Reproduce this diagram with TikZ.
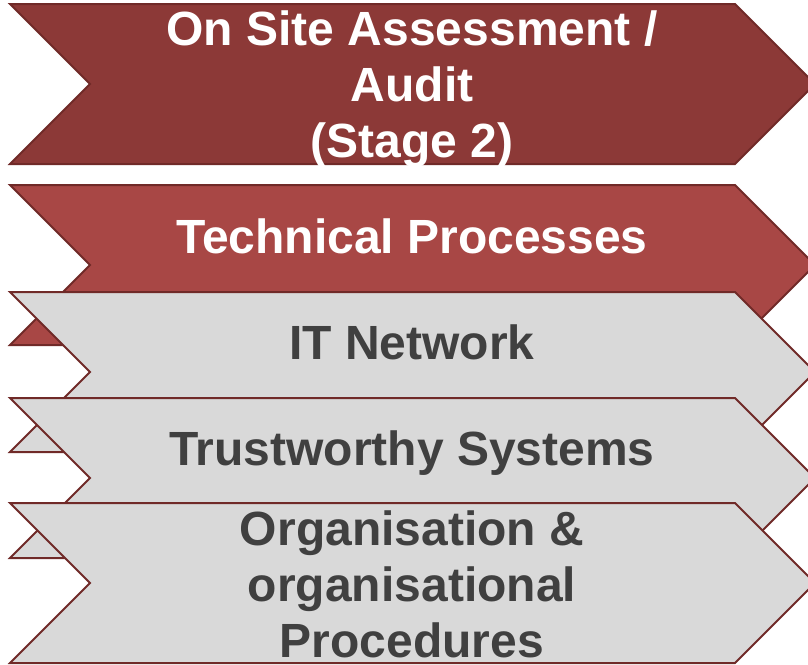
\documentclass[tikz,border=0pt]{standalone}
\usepackage{fontspec}
\setmainfont{Liberation Sans}
\definecolor{stagered}{RGB}{140,57,55}
\definecolor{techred}{RGB}{168,71,69}
\definecolor{boxgrey}{RGB}{217,217,217}
\definecolor{edgered}{RGB}{112,42,40}
\definecolor{textgrey}{RGB}{64,64,64}
\tikzset{
  chevron/.style={draw=edgered, line width=2pt, line join=miter},
  headtext/.style={text=white, font=\bfseries\fontsize{48}{56}\selectfont,
    align=center, inner sep=0pt, anchor=base},
  subtext/.style={headtext, text=textgrey}
}
\begin{document}
\begin{tikzpicture}[x=1pt, y=-1pt]
    \useasboundingbox (0, 0) rectangle (808, 664);
    % stages, top to bottom, each one over the one above
    \foreach \t/\c in {4/stagered, 185/techred, 292/boxgrey, 398/boxgrey, 503/boxgrey}
      \filldraw[chevron, fill=\c] (10, \t) -- (735, \t) -- (815, \t+80)
        -- (735, \t+160) -- (10, \t+160) -- (90, \t+80) -- cycle;
    % base of a multi-line text is its last line
    \node[headtext] (stage) at (412, 157) {On Site Assessment /\\Audit\\(Stage 2)};
    \node[headtext] (tech) at (412, 253) {Technical Processes};
    \node[subtext] (itnet) at (412, 359) {IT Network};
    \node[subtext] (trust) at (412, 465) {Trustworthy Systems};
    \node[subtext] (orga) at (412, 657) {Organisation \&\\organisational\\Procedures};
  \end{tikzpicture}
\end{document}
